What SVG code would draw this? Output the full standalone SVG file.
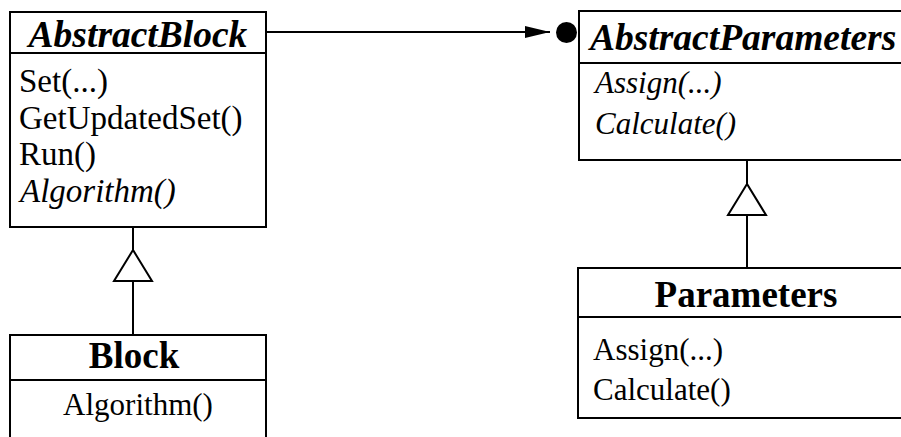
<svg xmlns="http://www.w3.org/2000/svg" width="901" height="437" viewBox="0 0 901 437">
<defs>
<style>
.box{fill:#fff;stroke:#000;stroke-width:2}
.div{stroke:#000;stroke-width:2}
.ttl{font-family:"Liberation Serif",serif;font-size:37px;font-weight:bold}
.ttli{font-family:"Liberation Serif",serif;font-size:37.5px;font-weight:bold;font-style:italic}
.op{font-family:"Liberation Serif",serif;font-size:31px}
.opi{font-family:"Liberation Serif",serif;font-size:31px;font-style:italic}
.opb{font-family:"Liberation Serif",serif;font-size:33px}
.opbi{font-family:"Liberation Serif",serif;font-size:33px;font-style:italic}
.ln{stroke:#000;stroke-width:2;fill:none}
.tri{fill:#fff;stroke:#000;stroke-width:2}
</style>
<marker id="arr" markerWidth="26" markerHeight="12" refX="25" refY="6" orient="auto" markerUnits="userSpaceOnUse">
<path d="M0,0 L25,6 L0,12 Z" fill="#000"/>
</marker>
</defs>
<rect width="901" height="437" fill="#fff"/>
<g id="connectors">
<line class="ln" x1="266" y1="32" x2="550" y2="32" marker-end="url(#arr)"/>
<circle cx="566.5" cy="32.5" r="10.5" fill="#000"/>
<line class="ln" x1="133" y1="227" x2="133" y2="250"/>
<polygon class="tri" points="133,250 114,281 152,281"/>
<line class="ln" x1="133" y1="281" x2="133" y2="335"/>
<line class="ln" x1="747" y1="160" x2="747" y2="184"/>
<polygon class="tri" points="747,184 728,215 766,215"/>
<line class="ln" x1="747" y1="215" x2="747" y2="268"/>
</g>
<g id="AbstractBlock">
<rect class="box" x="10" y="12" width="256" height="215"/>
<line class="div" x1="10" y1="53" x2="266" y2="53"/>
<text class="ttli" x="138" y="47" text-anchor="middle">AbstractBlock</text>
<text class="opb" x="19" y="92">Set(...)</text>
<text class="opb" x="19" y="129">GetUpdatedSet()</text>
<text class="opb" x="19" y="165">Run()</text>
<text class="opbi" x="20" y="202">Algorithm()</text>
</g>
<g id="Block">
<rect class="box" x="10" y="335" width="256" height="130"/>
<line class="div" x1="10" y1="380" x2="266" y2="380"/>
<text class="ttl" x="134" y="368" text-anchor="middle">Block</text>
<text class="op" x="138" y="415" text-anchor="middle">Algorithm()</text>
</g>
<g id="AbstractParameters">
<rect class="box" x="579" y="11" width="340" height="149"/>
<line class="div" x1="579" y1="63" x2="919" y2="63"/>
<text class="ttli" x="590" y="50">AbstractParameters</text>
<text class="opi" x="595" y="93">Assign(...)</text>
<text class="opi" x="595" y="134">Calculate()</text>
</g>
<g id="Parameters">
<rect class="box" x="578" y="268" width="340" height="150"/>
<line class="div" x1="578" y1="317" x2="918" y2="317"/>
<text class="ttl" x="746" y="307" text-anchor="middle">Parameters</text>
<text class="op" x="593" y="360">Assign(...)</text>
<text class="op" x="593" y="400">Calculate()</text>
</g>
</svg>
